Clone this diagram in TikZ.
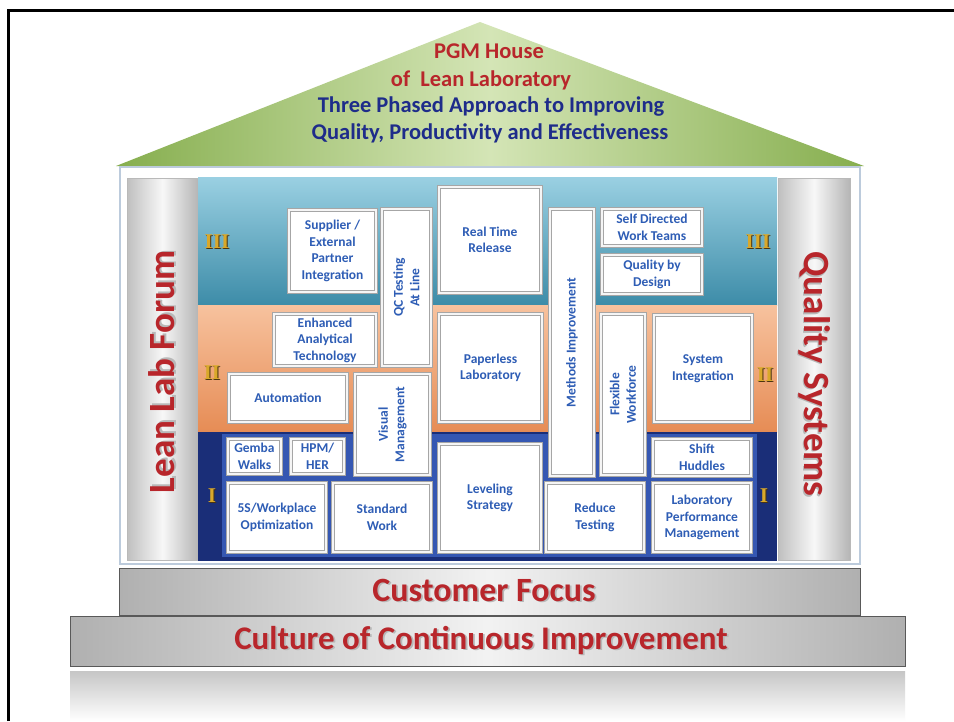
\documentclass[tikz,border=0pt]{standalone}
\usepackage{fontspec}
\setmainfont{Carlito}
\newfontfamily\romanfont{Liberation Serif}
\usetikzlibrary{positioning}

\definecolor{boxblue}{HTML}{2E5DB5}
\definecolor{titlered}{HTML}{B8262B}
\definecolor{titlenavy}{HTML}{1E2C8A}
\definecolor{roofgreen}{HTML}{86AE4E}
\definecolor{roofpale}{HTML}{D4E5B6}
\definecolor{tealdark}{HTML}{3D8CA8}
\definecolor{teallight}{HTML}{9AD0E2}
\definecolor{peach}{HTML}{F7C29E}
\definecolor{orangedark}{HTML}{E68C55}
\definecolor{navy}{HTML}{1A2E78}
\definecolor{navylight}{HTML}{3557B2}
\definecolor{phasegold}{HTML}{D9A82A}
\definecolor{phasebrown}{HTML}{4A3410}
\definecolor{framegray}{HTML}{BCCBDC}

\newcommand{\shadowed}[1]{\makebox[0pt][l]{\hspace{1.8pt}\raisebox{-1.8pt}{\color{black!28}#1}}#1}
\newcommand{\phase}[1]{{\romanfont\bfseries\makebox[0pt][l]{\hspace{1pt}\raisebox{-1pt}{\color{phasebrown}#1}}\color{phasegold}#1}}

\tikzset{
  cell/.style={draw=gray!70, double=gray!8, double distance=1.6pt, line width=1.1pt,
    fill=white, inner sep=1pt, align=center, text=boxblue,
    font=\fontsize{13.5}{16.5}\selectfont\bfseries},
  upcell/.style={cell, rotate=90},
  slab/.style={draw=black!65, line width=1pt, left color=gray!62, right color=gray!62, middle color=gray!10},
  pillar/.style={draw=gray!55, line width=1pt, left color=gray!50, right color=gray!58, middle color=gray!6},
  phaselabel/.style={font=\fontsize{21}{21}\selectfont},
  bigred/.style={text=titlered, font=\fontsize{37}{37}\selectfont\bfseries},
  rooftext/.style={font=\fontsize{22.5}{22.5}\selectfont\bfseries},
}

\begin{document}
\begin{tikzpicture}[x=1pt,y=-1pt]
    \useasboundingbox (0,0) rectangle (954,721);
    \fill[white] (0,0) rectangle (954,721);

    \draw[line width=3pt] (8,721) -- (8,10.5) -- (954,10.5);

    \shade[left color=roofgreen, right color=roofgreen, middle color=roofpale] (480,22) -- (864,166) -- (116,166) -- cycle;
    \node[rooftext, text=titlered] (pgm) at (489,51) {PGM House};
    \node[rooftext, text=titlered] (lean) at (481,80) {of~ Lean Laboratory};
    \node[rooftext, text=titlenavy] (three) at (491,107) {Three Phased Approach to Improving};
    \node[rooftext, text=titlenavy] (quality) at (490,133) {Quality, Productivity and Effectiveness};

    \draw[framegray, line width=1.5pt, fill=white] (120,167) rectangle (860,564);
    \draw[pillar] (127,178) rectangle (198,560);
    \draw[pillar] (778,178) rectangle (850,560);
    \node[bigred, rotate=90] (forum) at (163,372) {\shadowed{Lean Lab Forum}};
    \node[bigred, rotate=-90] (qsys) at (814,374) {\shadowed{Quality Systems}};

    \shade[top color=teallight, bottom color=tealdark] (198,177) rectangle (777,305);
    \shade[top color=peach, bottom color=orangedark] (198,305) rectangle (777,432);
    \fill[navy] (198,432) rectangle (777,561);
    \fill[navylight] (222,434) rectangle (757,557);

    \node[cell, minimum width=87, minimum height=82] (supplier) at (332.5,251) {Supplier /\\External\\Partner\\Integration};
    \node[upcell, minimum width=157, minimum height=49] (qctest) at (406.5,287.5) {QC Testing\\At Line};
    \node[cell, minimum width=102, minimum height=106] (realtime) at (490,240) {Real Time\\Release};
    \node[upcell, minimum width=267, minimum height=44] (methods) at (572,342.5) {Methods Improvement};
    \node[cell, minimum width=100, minimum height=37] (selfdir) at (652,227.5) {Self Directed\\Work Teams};
    \node[cell, minimum width=100, minimum height=39] (qbd) at (652,274.5) {Quality by\\Design};

    \node[cell, minimum width=102, minimum height=52] (enhanced) at (325,340) {Enhanced\\Analytical\\Technology};
    \node[cell, minimum width=118, minimum height=48] (automation) at (288,398) {Automation};
    \node[upcell, minimum width=101, minimum height=75] (visual) at (392.5,424.5) {Visual\\Management};
    \node[cell, minimum width=103, minimum height=108] (paperless) at (490.5,368) {Paperless\\Laboratory};
    \node[upcell, minimum width=161, minimum height=44] (flexible) at (623,394.5) {Flexible\\Workforce};
    \node[cell, minimum width=98, minimum height=107] (sysint) at (703,368.5) {System\\Integration};

    \node[cell, minimum width=53, minimum height=35] (gemba) at (254.5,456.5) {Gemba\\Walks};
    \node[cell, minimum width=53, minimum height=35] (hpm) at (317.5,456.5) {HPM/\\HER};
    \node[cell, minimum width=98, minimum height=69] (fives) at (277,517.5) {5S/Workplace\\Optimization};
    \node[cell, minimum width=98, minimum height=69] (standard) at (382,517.5) {Standard\\Work};
    \node[cell, minimum width=102, minimum height=108] (leveling) at (490,498) {Leveling\\Strategy};
    \node[cell, minimum width=98, minimum height=69] (reduce) at (595,517.5) {Reduce\\Testing};
    \node[cell, minimum width=98, minimum height=37] (shift) at (702,457.5) {Shift\\Huddles};
    \node[cell, minimum width=98, minimum height=69] (labperf) at (702,517.5) {Laboratory\\Performance\\Management};

    \node[phaselabel] (threeL) at (217,242) {\phase{III}};
    \node[phaselabel] (threeR) at (758,242) {\phase{III}};
    \node[phaselabel] (twoL) at (212,373) {\phase{II}};
    \node[phaselabel] (twoR) at (765,375) {\phase{II}};
    \node[phaselabel] (oneL) at (212,496) {\phase{I}};
    \node[phaselabel] (oneR) at (764,496) {\phase{I}};

    \draw[slab] (119,568) rectangle (860,615);
    \node[bigred, font=\fontsize{34}{34}\selectfont\bfseries] (customer) at (484,591) {\shadowed{Customer Focus}};
    \draw[slab] (70,616) rectangle (905,666);
    \node[bigred, font=\fontsize{33}{33}\selectfont\bfseries] (culture) at (481,641) {\shadowed{Culture of Continuous Improvement}};

    \shade[top color=gray!45, bottom color=white] (70,671) rectangle (905,721);
\end{tikzpicture}
\end{document}
